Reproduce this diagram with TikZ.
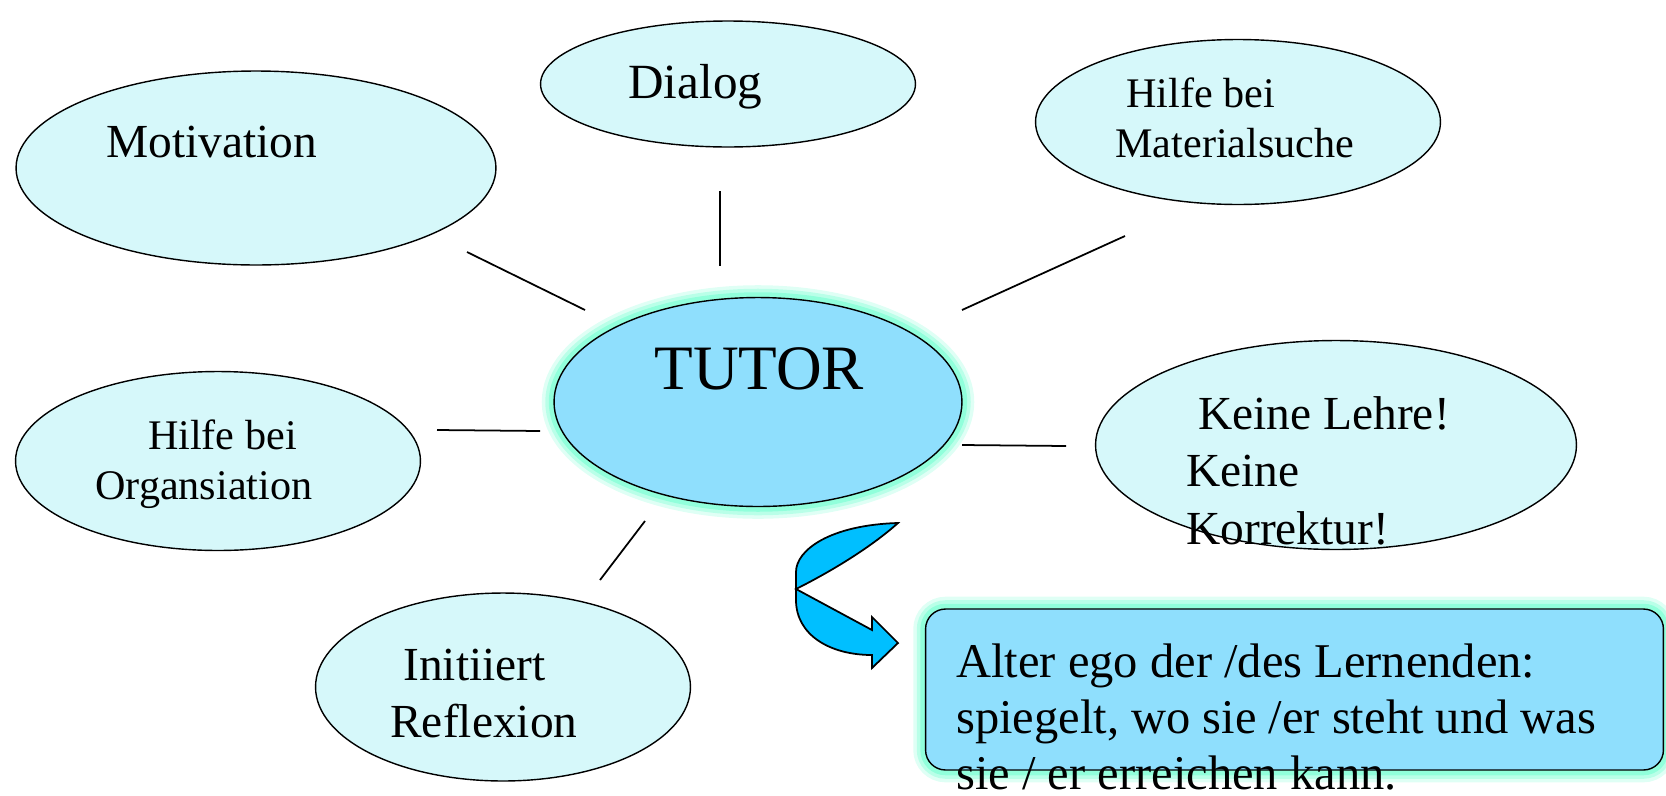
\documentclass[tikz,border=0pt]{standalone}
\usepackage{fontspec}
\setmainfont{Liberation Serif}
\usetikzlibrary{shapes.geometric}
\definecolor{bubblefill}{RGB}{214,248,250}
\definecolor{tutorfill}{RGB}{143,223,253}
\definecolor{glowcol}{RGB}{128,255,214}
\definecolor{arrowfill}{RGB}{0,191,255}
\newcommand{\sz}[2]{\fontsize{#1}{#2}\selectfont}

\begin{document}
\begin{tikzpicture}[x=0.02cm,y=-0.02cm]
    \tikzstyle{bubble}=[draw,ellipse,fill=bubblefill,inner sep=0pt,line width=0.8pt]
    \tikzstyle{glow}=[preaction={draw=glowcol,line width=14pt,draw opacity=0.25},preaction={draw=glowcol,line width=10pt,draw opacity=0.4},preaction={draw=glowcol,line width=6pt,draw opacity=0.7}]
    \tikzstyle{lbl}=[inner sep=0pt,anchor=base west,align=left]
    \tikzstyle{spoke}=[line width=1pt]

    \useasboundingbox (0,0) rectangle (1666,795);

    \node[bubble,minimum width=9.6cm,minimum height=3.88cm] (motiv) at (256,168) {};
    \node[bubble,minimum width=7.5cm,minimum height=2.52cm] (dialog) at (728,84) {};
    \node[bubble,minimum width=8.1cm,minimum height=3.3cm] (matsuche) at (1238,122) {};
    \node[bubble,minimum width=8.1cm,minimum height=3.58cm] (orga) at (218,461) {};
    \node[bubble,minimum width=9.62cm,minimum height=4.18cm] (lehre) at (1336,445) {};
    \node[bubble,minimum width=7.5cm,minimum height=3.76cm] (reflex) at (503,687) {};
    \node[draw,ellipse,glow,fill=tutorfill,inner sep=0pt,line width=0.8pt,minimum width=8.16cm,minimum height=4.18cm] (tutor) at (758,402) {};
    \node[draw,rounded corners=0.4cm,glow,fill=tutorfill,inner sep=0pt,line width=0.8pt,minimum width=14.76cm,minimum height=3.22cm] (ego) at (1294.5,689.5) {};

    \node[lbl,font=\sz{27}{32}] (motiv-t) at (106,157) {Motivation};
    \node[lbl,font=\sz{28}{32}] (dialog-t) at (628,98) {Dialog};
    \node[lbl,font=\sz{24}{28.3}] (matsuche-t) at (1115,157) {\hspace*{6.2pt}Hilfe bei\\Materialsuche};
    \node[lbl,font=\sz{36}{40}] (tutor-t) at (654,389) {TUTOR};
    \node[lbl,font=\sz{24}{28.3}] (orga-t) at (95,499) {\hspace*{30pt}Hilfe bei\\Organsiation};
    \node[lbl,font=\sz{27}{32.6}] (lehre-t) at (1186,544) {\hspace*{6.8pt}Keine Lehre!\\Keine\\Korrektur!};
    \node[lbl,font=\sz{27}{32.3}] (reflex-t) at (390,737) {\hspace*{7.4pt}Initiiert\\Reflexion};
    \node[lbl,font=\sz{27.6}{31.6}] (ego-t) at (956,789) {Alter ego der /des Lernenden:\\spiegelt, wo sie /er steht und was\\sie / er erreichen kann.};

    \coordinate (motiv-a) at (467,252);   \coordinate (motiv-b) at (585,310);
    \coordinate (dialog-a) at (720,191);  \coordinate (dialog-b) at (720,266);
    \coordinate (matsuche-a) at (1125,236); \coordinate (matsuche-b) at (962,310);
    \coordinate (orga-a) at (437,430);    \coordinate (orga-b) at (540,431);
    \coordinate (lehre-a) at (1066,446);  \coordinate (lehre-b) at (962,445);
    \coordinate (reflex-a) at (600,580);  \coordinate (reflex-b) at (645,521);

    \draw[spoke] (motiv-a) -- (motiv-b);
    \draw[spoke] (dialog-a) -- (dialog-b);
    \draw[spoke] (matsuche-a) -- (matsuche-b);
    \draw[spoke] (orga-a) -- (orga-b);
    \draw[spoke] (lehre-a) -- (lehre-b);
    \draw[spoke] (reflex-a) -- (reflex-b);

    \filldraw[fill=arrowfill,line width=1pt,line join=miter] (898,523) .. controls (830,525) and (796,550) .. (796,572) -- (796,600) .. controls (796,635) and (830,655) .. (872,655) -- (872,668) -- (898,643) -- (872,617) -- (872,630) -- (796,589) .. controls (830,572) and (870,548) .. (898,523) -- cycle;
  \end{tikzpicture}
\end{document}
